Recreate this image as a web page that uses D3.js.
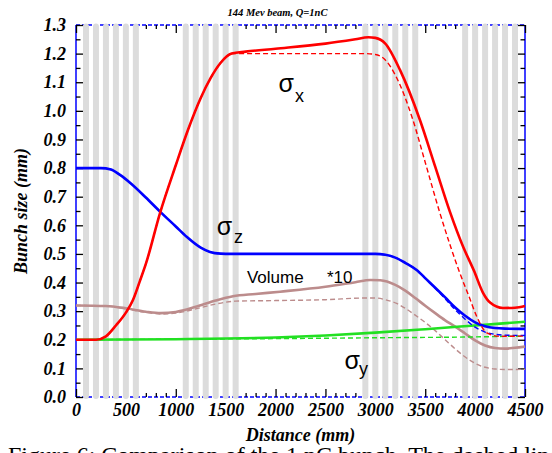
<!DOCTYPE html>
<html>
<head>
<meta charset="utf-8">
<script src="https://cdn.jsdelivr.net/npm/d3@7"></script>
<style>
  body { margin: 0; background: #fff; }
</style>
</head>
<body>
<div id="chart"></div>
<script>
var svgWidth = 552;
var svgHeight = 453;

// tick values
var xTicks = [0, 500, 1000, 1500, 2000, 2500, 3000, 3500, 4000, 4500];
var yTicks = [0.0, 0.1, 0.2, 0.3, 0.4, 0.5, 0.6, 0.7, 0.8, 0.9, 1.0, 1.1, 1.2, 1.3];

// magnet (grey stripe) positions in mm
var magnets = [100, 200, 300, 400, 500, 600,
               1100, 1200, 1300, 1400, 1500, 1600,
               2900, 3000, 3100, 3200, 3300, 3400,
               3900, 4000, 4100, 4200, 4300, 4400];

// [distance mm, size mm]
var sigmaX = [[0,0.200],[200,0.200],[300,0.212],[400,0.250],[500,0.295],[571,0.339],[640,0.405],
  [700,0.465],[842,0.643],[1000,0.810],[1122,0.933],[1250,1.045],[1350,1.115],[1450,1.168],
  [1560,1.200],[1700,1.207],[2000,1.217],[2500,1.235],[2800,1.250],[2930,1.257],[3000,1.255],
  [3100,1.235],[3247,1.143],[3447,0.968],[3600,0.805],[3747,0.648],[3880,0.525],[3990,0.440],
  [4078,0.365],[4150,0.330],[4279,0.311],[4400,0.312],[4500,0.318]];
var sigmaXDash = [[0,0.200],[200,0.200],[300,0.212],[400,0.250],[500,0.295],[571,0.339],[640,0.405],
  [700,0.465],[842,0.643],[1000,0.810],[1122,0.933],[1250,1.045],[1350,1.115],[1450,1.168],
  [1560,1.200],[2900,1.200],[3000,1.197],[3100,1.178],[3200,1.125],[3377,0.968],[3500,0.820],
  [3647,0.643],[3750,0.530],[3847,0.433],[3940,0.350],[4018,0.280],[4118,0.224],[4250,0.212],
  [4500,0.213]];
var sigmaZ = [[0,0.800],[250,0.800],[350,0.795],[441,0.776],[550,0.746],[700,0.697],[842,0.648],
  [1000,0.596],[1112,0.559],[1250,0.522],[1343,0.507],[1450,0.501],[1550,0.500],[3000,0.500],
  [3100,0.497],[3200,0.487],[3300,0.469],[3414,0.444],[3513,0.411],[3600,0.382],[3700,0.348],
  [3800,0.313],[3900,0.284],[4000,0.261],[4100,0.247],[4200,0.241],[4300,0.239],[4500,0.238]];
var sigmaZDash = [[0,0.800],[250,0.800],[350,0.795],[441,0.776],[550,0.746],[700,0.697],[842,0.648],
  [1000,0.596],[1112,0.559],[1250,0.522],[1343,0.507],[1450,0.501],[1550,0.500],[3000,0.500],
  [3100,0.497],[3200,0.487],[3300,0.469],[3414,0.444],[3513,0.411],[3600,0.380],[3700,0.343],
  [3800,0.305],[3900,0.272],[4000,0.244],[4100,0.227],[4200,0.219],[4300,0.216],[4500,0.215]];
var sigmaY = [[0,0.200],[1000,0.202],[2000,0.208],[2500,0.215],[3000,0.225],[3500,0.237],
  [4000,0.250],[4500,0.263]];
var sigmaYDash = [[0,0.200],[1000,0.202],[2000,0.204],[3000,0.207],[4000,0.210],[4500,0.213]];
var volume = [[0,0.320],[300,0.318],[500,0.310],[700,0.298],[850,0.293],[1000,0.297],[1200,0.315],
  [1400,0.337],[1573,0.352],[1800,0.360],[2045,0.368],[2500,0.385],[2800,0.401],[2950,0.409],
  [3050,0.408],[3200,0.392],[3300,0.372],[3400,0.346],[3500,0.319],[3600,0.293],[3700,0.268],
  [3800,0.246],[3900,0.222],[4000,0.198],[4100,0.180],[4200,0.171],[4300,0.169],[4400,0.172],
  [4500,0.176]];
var volumeDash = [[0,0.320],[300,0.318],[500,0.308],[700,0.296],[850,0.290],[1000,0.293],[1200,0.308],
  [1400,0.325],[1600,0.335],[2000,0.337],[2500,0.340],[2900,0.346],[3000,0.346],[3100,0.340],
  [3213,0.327],[3300,0.310],[3400,0.286],[3513,0.257],[3600,0.232],[3700,0.200],[3814,0.164],
  [3950,0.128],[4078,0.106],[4200,0.098],[4300,0.096],[4500,0.097]];

var x = d3.scaleLinear().domain([0, 4500]).range([76, 525]);
var y = d3.scaleLinear().domain([0, 1.3]).range([397, 25]);

var svg = d3.select("#chart").append("svg")
  .attr("width", svgWidth)
  .attr("height", svgHeight)
  .style("background", "#fff");

var minorX = d3.range(0, 4501, 100).filter(d => d % 500 !== 0);
var minorY = d3.range(0, 1.31, 0.05).map(d => +d.toFixed(2)).filter(d => Math.round(d * 100) % 10 !== 0);

function styleAxis(g) {
  g.select(".domain").remove();
  g.selectAll(".tick line").attr("stroke", "#000").attr("stroke-width", 1.3);
  g.selectAll("text")
    .attr("fill", "#000")
    .style("font-family", "'Liberation Serif', 'Times New Roman', serif")
    .style("font-weight", "bold")
    .style("font-style", "italic")
    .style("font-size", "18px");
}

// frame lines
svg.append("line").attr("x1", x(0)).attr("x2", x(0)).attr("y1", y(0)).attr("y2", y(1.3))
  .attr("stroke", "#0000ff").attr("stroke-width", 1.5);
svg.append("line").attr("x1", x(4500)).attr("x2", x(4500)).attr("y1", y(0)).attr("y2", y(1.3))
  .attr("stroke", "#0000ff").attr("stroke-width", 1.5);
svg.append("line").attr("x1", x(0)).attr("x2", x(4500)).attr("y1", y(0)).attr("y2", y(0))
  .attr("stroke", "#0000ff").attr("stroke-width", 1.3).attr("stroke-dasharray", "4,2");
svg.append("line").attr("x1", x(0)).attr("x2", x(4500)).attr("y1", y(1.3)).attr("y2", y(1.3))
  .attr("stroke", "#0000ff").attr("stroke-width", 1.3).attr("stroke-dasharray", "4,2");

// axes
svg.append("g").attr("transform", `translate(0, ${y(0)})`)
  .call(d3.axisBottom(x).tickValues(xTicks).tickSize(-8).tickPadding(6).tickFormat(d3.format("d")))
  .call(styleAxis);
svg.append("g").attr("transform", `translate(0, ${y(0)})`)
  .call(d3.axisBottom(x).tickValues(minorX).tickSize(-4).tickFormat(""))
  .call(styleAxis);
svg.append("g").attr("transform", `translate(0, ${y(1.3)})`)
  .call(d3.axisTop(x).tickValues(xTicks).tickSize(-8).tickFormat(""))
  .call(styleAxis);
svg.append("g").attr("transform", `translate(0, ${y(1.3)})`)
  .call(d3.axisTop(x).tickValues(minorX).tickSize(-4).tickFormat(""))
  .call(styleAxis);
svg.append("g").attr("transform", `translate(${x(0)}, 0)`)
  .call(d3.axisLeft(y).tickValues(yTicks).tickSize(-7).tickPadding(10).tickFormat(d3.format(".1f")))
  .call(styleAxis);
svg.append("g").attr("transform", `translate(${x(0)}, 0)`)
  .call(d3.axisLeft(y).tickValues(minorY).tickSize(-4.5).tickFormat(""))
  .call(styleAxis);
svg.append("g").attr("transform", `translate(${x(4500)}, 0)`)
  .call(d3.axisRight(y).tickValues(yTicks).tickSize(-7).tickFormat(""))
  .call(styleAxis);
svg.append("g").attr("transform", `translate(${x(4500)}, 0)`)
  .call(d3.axisRight(y).tickValues(minorY).tickSize(-4.5).tickFormat(""))
  .call(styleAxis);

// magnet stripes
svg.append("g").selectAll("line").data(magnets).enter().append("line")
  .attr("x1", d => x(d)).attr("x2", d => x(d))
  .attr("y1", y(1.3) + 1.5).attr("y2", y(0) - 1)
  .attr("stroke", "#dcdcdc").attr("stroke-width", 6).attr("stroke-linecap", "round");

// curves
var line = d3.line()
  .x(d => x(d[0]))
  .y(d => y(d[1]))
  .curve(d3.curveMonotoneX);

var series = [
  { data: volume, color: "#bc8c8c", width: 2.6, dash: null },
  { data: volumeDash, color: "#bc8c8c", width: 1.4, dash: "5,3" },
  { data: sigmaY, color: "#22e022", width: 2.6, dash: null },
  { data: sigmaYDash, color: "#22e022", width: 1.4, dash: "5,3" },
  { data: sigmaZ, color: "#0000ff", width: 2.6, dash: null },
  { data: sigmaZDash, color: "#0000ff", width: 1.4, dash: "5,3" },
  { data: sigmaX, color: "#ff0000", width: 2.6, dash: null },
  { data: sigmaXDash, color: "#ff0000", width: 1.4, dash: "5,3" }
];

series.forEach(function(s) {
  svg.append("path")
    .datum(s.data)
    .attr("d", line)
    .attr("fill", "none")
    .attr("stroke", s.color)
    .attr("stroke-width", s.width)
    .attr("stroke-dasharray", s.dash);
});

// curve labels
var sans = "'Liberation Sans', Arial, sans-serif";
function label(text, px, py, size) {
  svg.append("text")
    .attr("x", x(px)).attr("y", y(py))
    .style("font-family", sans)
    .style("font-size", size + "px")
    .attr("fill", "#000")
    .text(text);
}
label("σ", 2030, 1.066, 25);
label("x", 2194, 1.031, 18);
label("σ", 1410, 0.566, 25);
label("z", 1583, 0.538, 18);
label("σ", 2690, 0.098, 25);
label("y", 2836, 0.078, 18);
label("Volume", 1713, 0.398, 17);
label("*10", 2515, 0.398, 17);

// titles
var serifBI = "'Liberation Serif', 'Times New Roman', serif";
svg.append("text")
  .attr("x", 277.5).attr("y", 15.5)
  .attr("text-anchor", "middle")
  .style("font-family", serifBI).style("font-weight", "bold").style("font-style", "italic")
  .style("font-size", "10.5px")
  .text("144 Mev beam, Q=1nC");

svg.append("text")
  .attr("x", (x(0) + x(4500)) / 2).attr("y", 441)
  .attr("text-anchor", "middle")
  .style("font-family", serifBI).style("font-weight", "bold").style("font-style", "italic")
  .style("font-size", "18px")
  .text("Distance (mm)");

svg.append("text")
  .attr("transform", `translate(27, ${(y(0) + y(1.3)) / 2}) rotate(-90)`)
  .attr("text-anchor", "middle")
  .style("font-family", serifBI).style("font-weight", "bold").style("font-style", "italic")
  .style("font-size", "18px")
  .text("Bunch size (mm)");

// caption cut off at the bottom edge
svg.append("text")
  .attr("x", 8).attr("y", 463)
  .style("font-family", serifBI)
  .style("font-size", "24px")
  .text("Figure 6: Comparison of the 1 nC bunch. The dashed lines");
</script>
</body>
</html>
